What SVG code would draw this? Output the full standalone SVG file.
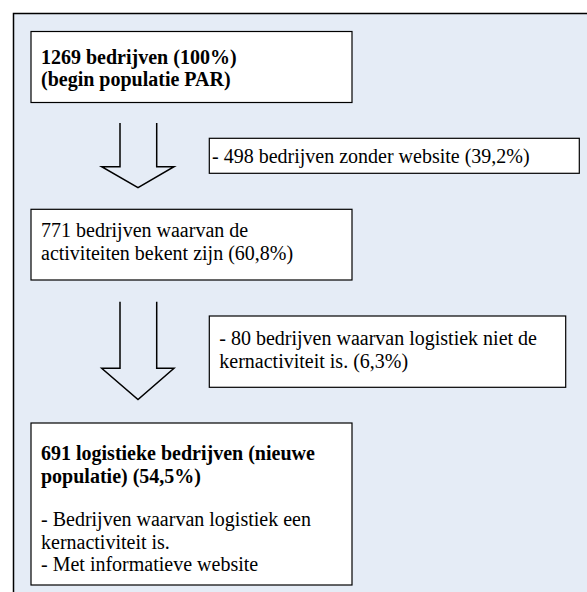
<svg xmlns="http://www.w3.org/2000/svg" width="587" height="592" viewBox="0 0 587 592">
<style>
.box{fill:#ffffff;stroke:#000000;stroke-width:1.2}
.arrow{fill:none;stroke:#000000;stroke-width:1.5;stroke-linejoin:miter}
.t{font-family:'Liberation Serif','Times New Roman',Times,serif;font-size:20px;fill:#000000}
.b{font-weight:bold}
</style>
<rect x="0" y="0" width="587" height="592" fill="#ffffff"/>
<rect id="frame" x="13.5" y="13.5" width="600" height="600" fill="#e5ecf6" stroke="#000000" stroke-width="1.5"/>
<g id="connectors">
<path class="arrow" d="M120,123 V166.7 H101.7 L138,187.7 L174,166.7 H156.7 V123"/>
<path class="arrow" d="M120,301.7 V368.3 H101.7 L138,399.5 L174,368.3 H156.7 V301.7"/>
</g>
<g id="node-start" class="t" font-family="'Liberation Serif', serif">
<rect class="box" x="31" y="31.5" width="321" height="71"/>
<text class="b" x="41" y="63.5">1269 bedrijven (100%)</text>
<text class="b" x="41" y="86">(begin populatie PAR)</text>
</g>
<g id="node-no-website" class="t" font-family="'Liberation Serif', serif">
<rect class="box" x="209.3" y="138.3" width="370" height="35"/>
<text x="212" y="163">- 498 bedrijven zonder website (39,2%)</text>
</g>
<g id="node-known" class="t" font-family="'Liberation Serif', serif">
<rect class="box" x="31" y="209.3" width="321" height="70.7"/>
<text x="41" y="237">771 bedrijven waarvan de</text>
<text x="41" y="259.5">activiteiten bekent zijn (60,8%)</text>
</g>
<g id="node-not-core" class="t" font-family="'Liberation Serif', serif">
<rect class="box" x="209.3" y="316" width="356.4" height="71.3"/>
<text x="219.3" y="345">- 80 bedrijven waarvan logistiek niet de</text>
<text x="219.3" y="367.5">kernactiviteit is. (6,3%)</text>
</g>
<g id="node-new-population" class="t" font-family="'Liberation Serif', serif">
<rect class="box" x="31" y="423" width="321" height="162"/>
<text class="b" x="41" y="460">691 logistieke bedrijven (nieuwe</text>
<text class="b" x="41" y="482.5">populatie) (54,5%)</text>
<text x="41" y="526">- Bedrijven waarvan logistiek een</text>
<text x="41" y="548.5">kernactiviteit is.</text>
<text x="41" y="571">- Met informatieve website</text>
</g>
</svg>
